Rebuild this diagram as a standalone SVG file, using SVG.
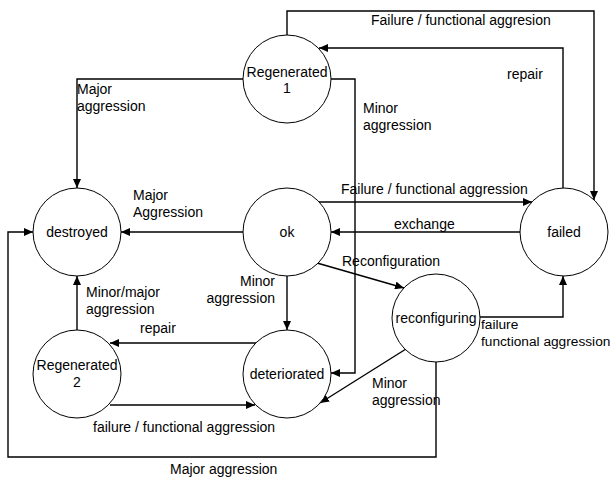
<svg xmlns="http://www.w3.org/2000/svg" width="613" height="480" viewBox="0 0 613 480">
<defs>
<marker id="arr" markerUnits="userSpaceOnUse" markerWidth="10" markerHeight="8" refX="9" refY="4" orient="auto">
<path d="M0,0 L9,4 L0,8 Z" fill="#000"/>
</marker>
<style>
.n{fill:#fff;stroke:#000;stroke-width:1}
.c{fill:none;stroke:#000;stroke-width:1.4;marker-end:url(#arr)}
.t{font-family:"Liberation Sans",Arial,sans-serif;font-size:14px;fill:#000}
.m{text-anchor:middle}
.e{text-anchor:end}
</style>
</defs>
<rect width="613" height="480" fill="#fff"/>
<g id="connectors">
<polyline class="c" points="243,79 77,79 77,188"/>
<polyline class="c" points="331,79 355,79 355,373 331,373"/>
<polyline class="c" points="563,188 563,48 319,48"/>
<polyline class="c" points="287,35 287,11 594,11 594,200"/>
<line class="c" x1="318" y1="202" x2="532" y2="202"/>
<line class="c" x1="520" y1="232" x2="331" y2="232"/>
<line class="c" x1="243" y1="232" x2="121" y2="232"/>
<line class="c" x1="317" y1="263" x2="404" y2="288"/>
<line class="c" x1="287" y1="276" x2="287" y2="330"/>
<line class="c" x1="77" y1="330" x2="77" y2="276"/>
<line class="c" x1="256" y1="343" x2="110" y2="343"/>
<line class="c" x1="110" y1="405" x2="255" y2="405"/>
<line class="c" x1="406" y1="349" x2="320" y2="403"/>
<polyline class="c" points="436,362 436,457 8,457 8,232 33,232"/>
<polyline class="c" points="480,317 563,317 563,276"/>
<text class="t" x="77" y="94">Major</text>
<text class="t" x="77" y="111">aggression</text>
<text class="t" x="363" y="113">Minor</text>
<text class="t" x="363" y="130">aggression</text>
<text class="t" x="371" y="25">Failure / functional aggresion</text>
<text class="t" x="507" y="79">repair</text>
<text class="t" x="341" y="194">Failure / functional aggression</text>
<text class="t" x="394" y="229">exchange</text>
<text class="t" x="133" y="200">Major</text>
<text class="t" x="133" y="217">Aggression</text>
<text class="t" x="342" y="266">Reconfiguration</text>
<text class="t e" x="275" y="286">Minor</text>
<text class="t e" x="275" y="303">aggression</text>
<text class="t" x="86" y="297">Minor/major</text>
<text class="t" x="86" y="314">aggression</text>
<text class="t" x="140" y="333">repair</text>
<text class="t" x="93" y="432">failure / functional aggression</text>
<text class="t" x="372" y="388">Minor</text>
<text class="t" x="372" y="405">aggression</text>
<text class="t" x="170" y="474">Major aggression</text>
<text class="t" x="481" y="329" style="font-size:13.7px">failure</text>
<text class="t" x="481" y="346" style="font-size:13.7px">functional aggression</text>
</g>
<g id="regenerated1"><circle class="n" cx="287" cy="79" r="44"/><text class="t m" x="287" y="77">Regenerated</text><text class="t m" x="287" y="93">1</text></g>
<g id="destroyed"><circle class="n" cx="77" cy="232" r="44"/><text class="t m" x="77" y="237">destroyed</text></g>
<g id="ok"><circle class="n" cx="287" cy="232" r="44"/><text class="t m" x="287" y="237">ok</text></g>
<g id="failed"><circle class="n" cx="564" cy="232" r="44"/><text class="t m" x="564" y="237">failed</text></g>
<g id="reconfiguring"><circle class="n" cx="436" cy="318" r="44"/><text class="t m" x="436" y="323">reconfiguring</text></g>
<g id="regenerated2"><circle class="n" cx="77" cy="374" r="44"/><text class="t m" x="77" y="370">Regenerated</text><text class="t m" x="77" y="387">2</text></g>
<g id="deteriorated"><circle class="n" cx="287" cy="374" r="44"/><text class="t m" x="287" y="379">deteriorated</text></g>
</svg>
